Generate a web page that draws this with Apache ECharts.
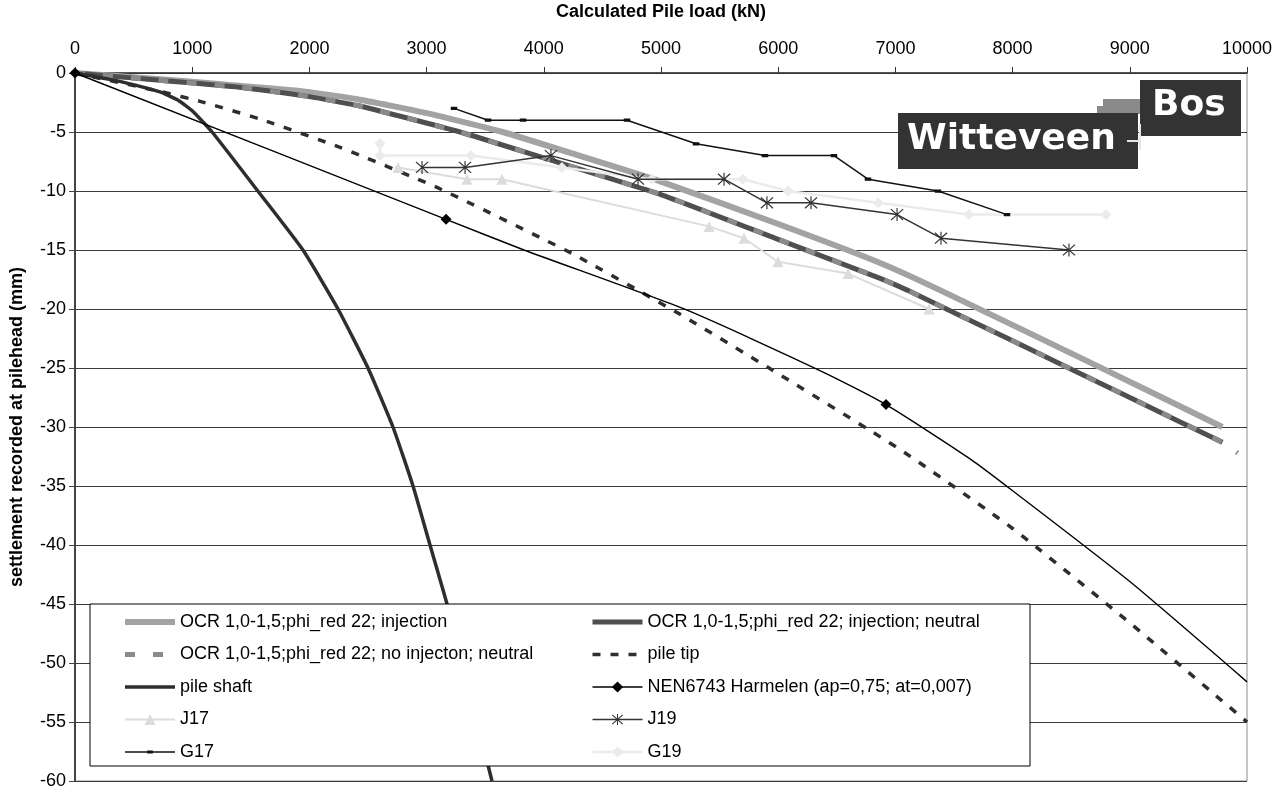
<!DOCTYPE html>
<html>
<head>
<meta charset="utf-8">
<script src="https://cdn.jsdelivr.net/npm/echarts@6/dist/echarts.min.js"></script>
<style>html,body{margin:0;padding:0;background:#fff;}#chart{width:1284px;height:792px;}</style>
</head>
<body>
<div id="chart"></div>
<script>
// ---- data (load kN, settlement mm) ----
const X_TICKS = [0,1000,2000,3000,4000,5000,6000,7000,8000,9000,10000];
const Y_TICKS = [0,-5,-10,-15,-20,-25,-30,-35,-40,-45,-50,-55,-60];

const SERIES_NAMES = [
  'OCR 1,0-1,5;phi_red 22; injection',
  'OCR 1,0-1,5;phi_red 22; injection; neutral',
  'OCR 1,0-1,5;phi_red 22; no injecton; neutral',
  'pile tip',
  'pile shaft',
  'NEN6743 Harmelen (ap=0,75; at=0,007)',
  'J17',
  'J19',
  'G17',
  'G19'
];

const ocrInjection = [[0,0],[700,-0.5],[1300,-1.0],[1900,-1.5],[2400,-2.2],[3000,-3.4],[3650,-5.0],[4300,-7.0],[5000,-9.2],[6000,-12.8],[6870,-16.1],[7380,-18.4],[8800,-25.2],[9790,-30.0]];
const ocrInjNeutral = [[0,0],[700,-0.6],[1400,-1.2],[2000,-2.0],[2430,-2.8],[3285,-5.0],[4000,-7.2],[5000,-10.3],[6000,-14.1],[6870,-17.4],[7100,-18.4],[8000,-22.7],[9000,-27.5],[9790,-31.3]];
const ocrNoInjNeutral = [[0,0],[700,-0.6],[1400,-1.2],[2000,-2.0],[2430,-2.8],[3285,-5.0],[4000,-7.2],[5000,-10.3],[6000,-14.1],[6870,-17.4],[7100,-18.4],[8000,-22.7],[9000,-27.5],[9790,-31.3],[9920,-32.2]];
const pileTip = [[0,0],[742,-1.6],[1067,-2.4],[1578,-3.9],[2261,-6.3],[3089,-9.7],[4241,-15.3],[5137,-20.3],[5905,-24.9],[7039,-31.9],[8000,-38.6],[9000,-46.6],[10000,-55.0]];
const pileShaft = [[0,0],[400,-0.75],[725,-1.6],[880,-2.3],[1000,-3.2],[1170,-5],[1560,-10],[1945,-15],[2244,-20],[2500,-25],[2713,-30],[2884,-35],[3029,-40],[3174,-45],[3558,-60]];
const nenCurve = [[0,0],[3166,-12.4],[3831,-15.0],[5222,-20.1],[6374,-25.3],[6920,-28.1],[7637,-32.7],[8000,-35.4],[9000,-43.1],[10000,-51.6]];
const nenMarkedLoads = [0,3166,6920];
const j17 = [[2756,-8],[3345,-9],[3643,-9],[5410,-13],[5708,-14],[5998,-16],[6596,-17],[7287,-20]];
const j19 = [[2961,-8],[3328,-8],[4061,-7],[4804,-9],[5538,-9],[5904,-11],[6280,-11],[7014,-12],[7389,-14],[8481,-15]];
const g17 = [[3234,-3],[3524,-4],[3823,-4],[4710,-4],[5299,-6],[5887,-7],[6476,-7],[6766,-9],[7363,-10],[7952,-12]];
const g19 = [[2602,-6],[2602,-7],[3379,-7],[4155,-8],[4923,-9],[5700,-9],[6084,-10],[6852,-11],[7628,-12],[8797,-12]];

// ---- chart ----
const FONT = 'Liberation Sans, Arial, sans-serif';
const ASTERISK = 'path://M9.2,0 L10.8,0 L10.8,20 L9.2,20 Z M1,2.2 L2.2,1 L19,17.8 L17.8,19 Z M17.8,1 L19,2.2 L2.2,19 L1,17.8 Z';
const SMALL_RECT = 'path://M0,0 L0.01,0 L0,0.01 Z M20,20 L19.99,20 L20,19.99 Z M5,7.5 L15,7.5 L15,12.5 L5,12.5 Z';

const nenData = nenCurve.map(p => nenMarkedLoads.indexOf(p[0]) >= 0 ? {value: p} : {value: p, symbol: 'none'});

function lineSeries(name, data, lineStyle, opts) {
  return Object.assign({
    name: name, type: 'line', data: data, symbol: 'none', showSymbol: true,
    lineStyle: lineStyle, itemStyle: {color: lineStyle.color},
    emphasis: {disabled: true}, animation: false, clip: true
  }, opts || {});
}

const SM = 0.15;
const series = [
  lineSeries(SERIES_NAMES[0], ocrInjection, {color: '#a3a3a3', width: 6}, {smooth: SM, z: 2}),
  lineSeries(SERIES_NAMES[1], ocrInjNeutral, {color: '#4f4f4f', width: 5}, {smooth: SM, z: 3}),
  lineSeries(SERIES_NAMES[2], ocrNoInjNeutral, {color: '#8a8a8a', width: 5, type: [10, 18]}, {smooth: SM, z: 4}),
  lineSeries(SERIES_NAMES[3], pileTip, {color: '#2e2e2e', width: 3.5, type: [8, 10]}, {smooth: SM, z: 5}),
  lineSeries(SERIES_NAMES[4], pileShaft, {color: '#2e2e2e', width: 3.5}, {smooth: SM, z: 5}),
  lineSeries(SERIES_NAMES[5], nenData, {color: '#000', width: 1.4}, {smooth: 0.2, z: 6, symbol: 'diamond', symbolSize: 11}),
  lineSeries(SERIES_NAMES[6], j17, {color: '#dcdcdc', width: 2}, {z: 6, symbol: 'triangle', symbolSize: 11}),
  lineSeries(SERIES_NAMES[7], j19, {color: '#333', width: 1.5}, {z: 7, symbol: ASTERISK, symbolSize: 13}),
  lineSeries(SERIES_NAMES[8], g17, {color: '#111', width: 1.5}, {z: 7, symbol: SMALL_RECT, symbolSize: 13}),
  lineSeries(SERIES_NAMES[9], g19, {color: '#ebebeb', width: 2.5}, {z: 6, symbol: 'diamond', symbolSize: 11})
];

const NO_MARKER = {opacity: 0, color: 'rgba(0,0,0,0)', borderWidth: 0};
function legendItem(i) {
  const s = series[i];
  const item = {name: s.name, lineStyle: Object.assign({}, s.lineStyle)};
  if (s.symbol === 'none') item.itemStyle = NO_MARKER;
  return item;
}

const legendText = {fontFamily: FONT, fontSize: 18, color: '#000'};
const legendCommon = {
  orient: 'vertical', itemWidth: 50, itemHeight: 14, itemGap: 14.5,
  textStyle: legendText, selectedMode: false, z: 10, padding: 0
};

const chart = echarts.init(document.getElementById('chart'), null, {renderer: 'canvas'});
chart.setOption({
  animation: false,
  backgroundColor: '#fff',
  grid: {left: 75, top: 73, right: 37, bottom: 11, outerBoundsMode: 'none', containLabel: false,
         show: true, borderColor: '#8c8c8c', borderWidth: 1, backgroundColor: 'transparent'},
  xAxis: {
    type: 'value', position: 'top', min: X_TICKS[0], max: X_TICKS[X_TICKS.length - 1], interval: 1000,
    name: 'Calculated Pile load (kN)', nameLocation: 'middle', nameGap: 52,
    nameTextStyle: {fontFamily: FONT, fontSize: 18, fontWeight: 'bold', color: '#000'},
    axisLine: {show: true, lineStyle: {color: '#333', width: 1.5}},
    axisTick: {show: true, inside: false, length: 6, lineStyle: {color: '#333'}},
    axisLabel: {fontFamily: FONT, fontSize: 18, color: '#000', margin: 15, formatter: v => String(v)},
    splitLine: {show: false}
  },
  yAxis: {
    type: 'value', min: Y_TICKS[Y_TICKS.length - 1], max: Y_TICKS[0], interval: 5,
    name: 'settlement recorded at pilehead (mm)', nameLocation: 'middle', nameGap: 49, nameRotate: 90,
    nameTextStyle: {fontFamily: FONT, fontSize: 18, fontWeight: 'bold', color: '#000'},
    axisLine: {show: true, onZero: false, lineStyle: {color: '#444', width: 2}},
    axisTick: {show: true, inside: false, length: 6, lineStyle: {color: '#444'}},
    axisLabel: {fontFamily: FONT, fontSize: 18, color: '#000', margin: 9, formatter: v => String(v)},
    splitLine: {show: true, lineStyle: {color: '#3a3a3a', width: 1}}
  },
  legend: [
    Object.assign({}, legendCommon, {left: 122, top: 613, data: [0, 2, 4, 6, 8].map(legendItem)}),
    Object.assign({}, legendCommon, {left: 590, top: 613, data: [1, 3, 5, 7, 9].map(legendItem)})
  ],
  graphic: [
    {type: 'rect', z: 8, shape: {x: 90, y: 604, width: 940, height: 162}, style: {fill: '#fff', stroke: '#000', lineWidth: 1}},
    // logo
    {type: 'rect', z: 20, shape: {x: 1103, y: 99, width: 40, height: 15}, style: {fill: '#8a8a8a'}},
    {type: 'rect', z: 20, shape: {x: 1097, y: 106, width: 8, height: 8}, style: {fill: '#8a8a8a'}},
    {type: 'rect', z: 21, shape: {x: 898, y: 113, width: 240, height: 56}, style: {fill: '#333'}},
    {type: 'rect', z: 21, shape: {x: 1140, y: 80, width: 101, height: 56}, style: {fill: '#333'}},
    {type: 'line', z: 22, shape: {x1: 1127, y1: 141, x2: 1141, y2: 141}, style: {stroke: '#e6e6e6', lineWidth: 2}},
    {type: 'line', z: 22, shape: {x1: 1140, y1: 124, x2: 1140, y2: 150}, style: {stroke: '#e6e6e6', lineWidth: 2}},
    {type: 'text', z: 23, x: 907, y: 140, style: {text: 'Witteveen', fill: '#fff', font: 'bold 36px "DejaVu Sans", sans-serif', verticalAlign: 'middle', align: 'left'}},
    {type: 'text', z: 23, x: 1152, y: 106, style: {text: 'Bos', fill: '#fff', font: 'bold 36px "DejaVu Sans", sans-serif', verticalAlign: 'middle', align: 'left'}}
  ],
  series: series
});
</script>
</body>
</html>
